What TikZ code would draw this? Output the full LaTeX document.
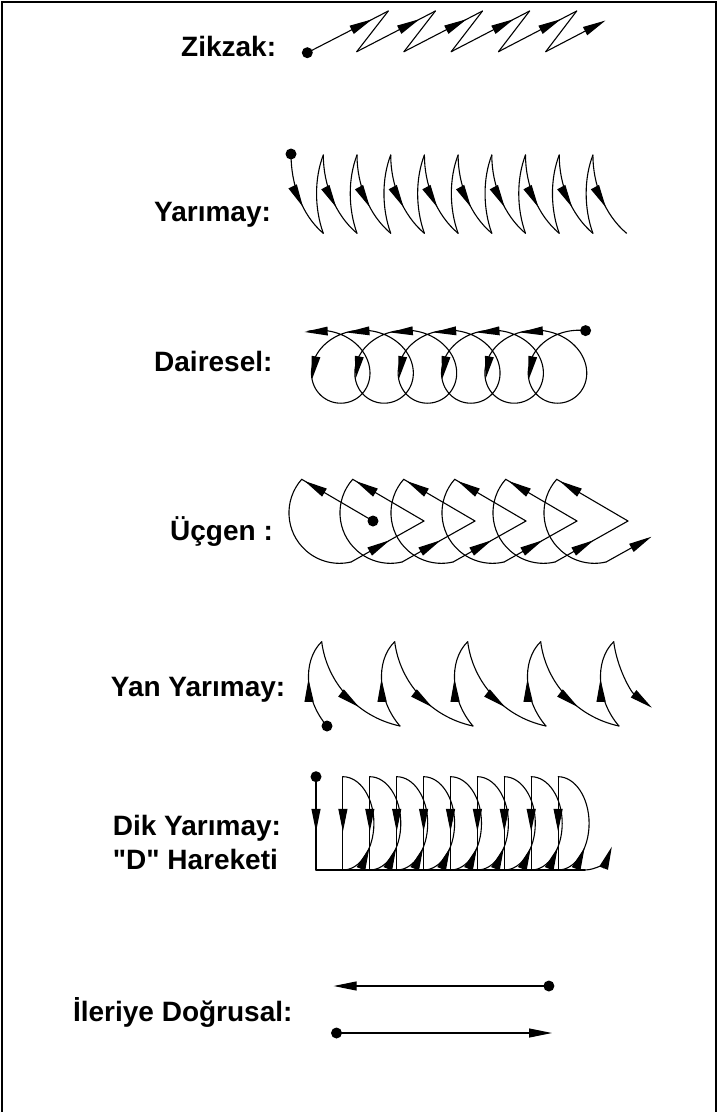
\documentclass[tikz,border=0pt]{standalone}
\usepackage{fontspec}
\setmainfont{Liberation Sans}[Ligatures=TeXOff]
\usetikzlibrary{arrows.meta,decorations.markings}
\tikzset{
  fig/.style={line width=1.1pt, line cap=round, line join=round},
  tipend/.style={-{Triangle[length=23pt,width=9pt]}},
  midarr/.style={postaction={decorate,decoration={markings,mark=at position #1 with {\arrow{Triangle[length=23pt,width=9pt]}}}}},
  blackdot/.style={circle,fill,inner sep=0pt,minimum size=11pt},
  lbl/.style={font=\bfseries\fontsize{28}{34}\selectfont, inner sep=0pt, anchor=base west},
  ah/.pic={\fill (0,0) -- (-23,4.5) -- (-23,-4.5) -- cycle;}
}
\newcommand\trocarr[2]{%
  \pgfmathsetmacro\tA{#1}%
  \pgfmathsetmacro\tB{#1-#2}%
  \pgfmathsetmacro\xA{590-6.9*rad(\tA)+39.5*cos(\tA)}%
  \pgfmathsetmacro\yA{366.7-36.5*sin(\tA)}%
  \pgfmathsetmacro\xB{590-6.9*rad(\tB)+39.5*cos(\tB)}%
  \pgfmathsetmacro\yB{366.7-36.5*sin(\tB)}%
  \pgfmathsetmacro\aR{atan2(\yB-\yA,\xA-\xB)}%
  \pic[rotate=\aR] at (\xA,\yA) {ah};%
}
\begin{document}
\begin{tikzpicture}[x=1pt,y=-1pt]
\useasboundingbox (0,0) rectangle (717,1112);
\draw[line width=2pt] (1.5,1112) -- (1.5,1.5) -- (715.5,1.5) -- (715.5,1112);

% labels
\node[lbl] (lzik) at (181,56) {Zikzak:};
\node[lbl] (lyar) at (154,221.7) {Yarımay:};
\node[lbl] (ldai) at (154,371.7) {Dairesel:};
\node[lbl] (lucg) at (170,540) {Üçgen :};
\node[lbl] (lyan) at (110.7,696) {Yan Yarımay:};
\node[lbl] (ldik) at (112.7,835) {Dik Yarımay:};
\node[lbl] (ldhr) at (112.7,869) {"D" Hareketi};
\node[lbl] (lile) at (72.9,1021) {İleriye Doğrusal:};

% Zikzak
\node[blackdot] (zd) at (307.3,52.7) {};
\foreach \i in {1,...,5} {
  \coordinate (zt\i) at ({388.3+47.1*(\i-1)},11);
  \coordinate (zb\i) at ({356.7+47.25*(\i-1)},51.7);
}
\coordinate (zend) at (605.5,20.5);
\draw[fig, midarr=0.8] (zd.center) -- (zt1);
\foreach \i [count=\j from 2] in {1,...,4} {
  \draw[fig] (zt\i) -- (zb\i);
  \draw[fig, midarr=0.8] (zb\i) -- (zt\j);
}
\draw[fig] (zt5) -- (zb5);
\draw[fig, tipend] (zb5) -- (zend);

% Yarimay
\node[blackdot] (yd) at (291,154) {};
\foreach \i in {1,...,10} {
  \coordinate (yt\i) at ({289.6+33.7*\i},155);
  \coordinate (yb\i) at ({289.6+33.7*\i},233.3);
}
\draw[fig, midarr=0.62] (yd.center) .. controls +(0,30) and +(-21.7,-18.3) .. (yb1);
\foreach \i [count=\j from 2] in {1,...,9} {
  \draw[fig] (yb\i) .. controls +(-9,-25) and +(-9,23.3) .. (yt\i);
  \draw[fig, midarr=0.62] (yt\i) .. controls +(0,30) and +(-21.7,-18.3) .. (yb\j);
}

% Dairesel
\draw[fig] plot[domain=82:2264, samples=700, variable=\t] ({590-6.9*rad(\t)+39.5*cos(\t)},{366.7-36.5*sin(\t)});
\node[blackdot] (dairdot) at (585.6,330.6) {};
\foreach \k in {0,...,5} {\trocarr{200+360*\k}{38}}
\foreach \k in {0,...,4} {\trocarr{470+360*\k}{30}}
\trocarr{2268}{30}

% Ucgen
\node[blackdot] (ud) at (373,521) {};
\coordinate (ur0) at (373,521);
\foreach \n in {1,...,6} {\coordinate (ur\n) at ({373+51*\n},521);}
\foreach \n in {0,...,5} {
  \coordinate (ua\n) at ({301.7+51*\n},479.3);
  \draw[fig, midarr=0.96] (ur\n) -- (ua\n);
  \draw[fig] (ua\n) arc[start angle=-138.4, end angle=-283.4, radius=50.5] coordinate (ub\n);
}
\foreach \n [count=\m from 1] in {0,...,4} {
  \draw[fig, midarr=0.53] (ub\n) -- (ur\m);
}
\coordinate (uend) at (651.5,536.7);
\draw[fig, tipend] (ub5) -- (uend);

% Yan Yarimay
\node[blackdot] (yyd) at (327,726) {};
\coordinate (yyb-1) at (327,726);
\foreach \n in {0,...,4} {\coordinate (yyt\n) at ({321.7+73*\n},641.7);}
\foreach \n in {0,...,3} {\coordinate (yyb\n) at ({400+73*\n},726);}
\foreach \n [count=\p from -1] in {0,...,4} {
  \draw[fig, midarr=0.56] (yyb\p) .. controls +(-22,-25) and +(-20,19.3) .. (yyt\n);
}
\foreach \n in {0,...,3} {
  \draw[fig, midarr=0.63] (yyt\n) .. controls +(5,40) and +(-43.3,-9.3) .. (yyb\n);
}
\coordinate (yyend) at (651.9,707.7);
\draw[fig, tipend] (yyt4) .. controls +(3.25,26) and +(-21.14,-16.09) .. (yyend);

% Dik Yarimay
\node[blackdot] (dd) at (316,776.7) {};
\foreach \i in {0,...,9} {
  \coordinate (dt\i) at ({316+26.9*\i},776.7);
  \coordinate (db\i) at ({316+26.9*\i},870);
}
\foreach \i in {0,...,9} {
  \draw[fig, midarr=0.59] (dt\i) -- (db\i);
}
\foreach \i [count=\j from 1] in {0,...,8} {
  \draw[fig] (db\i) -- (db\j);
  \draw[fig, midarr=0.3] (db\j) arc[start angle=90, end angle=-90, x radius=31, y radius=46.65];
}
\coordinate (dfin) at ({316+26.9*10},870);
\draw[fig] (db9) -- (dfin);
\draw[fig, tipend] (dfin) arc[start angle=90, end angle=30, x radius=31, y radius=46.65];

% Ileriye Dogrusal
\node[blackdot] (itd) at (548.9,986) {};
\coordinate (ite) at (333.6,986);
\draw[fig, tipend] (itd.center) -- (ite);
\node[blackdot] (ibd) at (336.5,1033) {};
\coordinate (ibe) at (552,1033);
\draw[fig, tipend] (ibd.center) -- (ibe);
\end{tikzpicture}
\end{document}
